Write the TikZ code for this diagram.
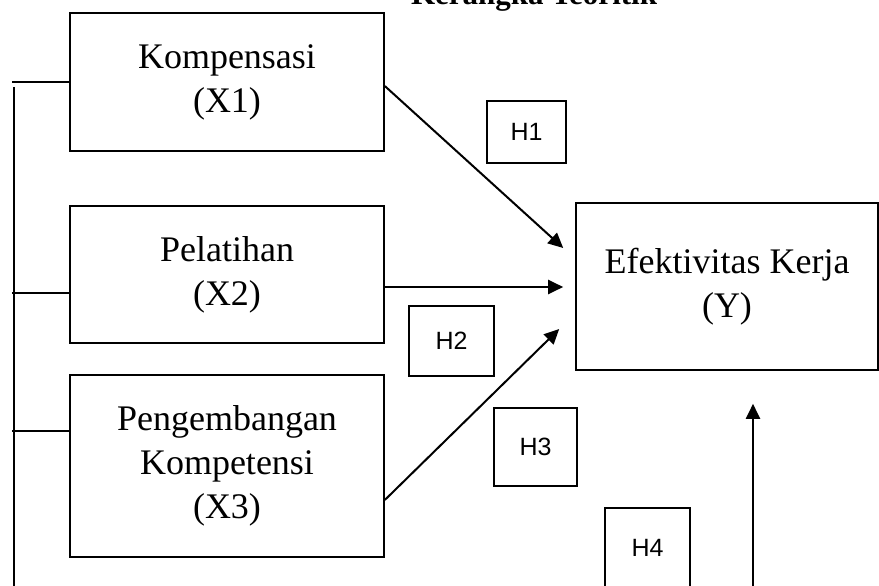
\documentclass[tikz,border=0pt]{standalone}
\usepackage{fontspec}
\setmainfont{Liberation Serif}
\setsansfont{Liberation Sans}
\usetikzlibrary{arrows.meta,positioning,calc}
\tikzset{
  varbox/.style={draw=black,line width=1.6pt,inner sep=0pt,align=center,
                 font=\fontsize{36}{44}\selectfont},
  hypbox/.style={draw=black,line width=1.6pt,inner sep=0pt,
                 font=\sffamily\fontsize{25}{29}\selectfont},
  arr/.style={-{Triangle[length=15pt,width=14pt]},line width=2pt},
  wire/.style={line width=1.7pt},
  titletext/.style={font=\bfseries\fontsize{31}{36}\selectfont,anchor=base}
}
\begin{document}
\begin{tikzpicture}[x=1pt,y=-1pt]
    \useasboundingbox (0,0) rectangle (879,586);

    \node[titletext] (title) at (534,5) {Kerangka Teoritik};

    % variabel bebas
    \node[varbox,minimum width=314pt,minimum height=138pt] (komp) at (227,82)
      {Kompensasi\\(X1)};
    \node[varbox,minimum width=314pt,minimum height=137pt] (pel) at (227,274.5)
      {Pelatihan\\(X2)};
    \node[varbox,minimum width=314pt,minimum height=182pt] (peng) at (227,466)
      {Pengembangan\\Kompetensi\\(X3)};
    % variabel terikat
    \node[varbox,minimum width=302pt,minimum height=167pt] (efek) at (727,286.5)
      {Efektivitas Kerja\\(Y)};

    % hipotesis
    \node[hypbox,minimum width=79pt,minimum height=62pt] (h1) at (526.5,132) {H1};
    \node[hypbox,minimum width=85pt,minimum height=70pt] (h2) at (451.5,341) {H2};
    \node[hypbox,minimum width=83pt,minimum height=78pt] (h3) at (535.5,447) {H3};
    \node[hypbox,minimum width=85pt,minimum height=80pt] (h4) at (647.5,548) {H4};

    \draw[arr] ([yshift=-4pt]komp.east) -- ([xshift=-12pt,yshift=38.5pt]efek.west);
    \draw[arr] ([yshift=-12.5pt]pel.east) -- ([xshift=-12pt,yshift=-0.5pt]efek.west);
    \draw[arr] ([yshift=-34pt]peng.east) -- ([xshift=-16pt,yshift=-42.5pt]efek.west);

    % simultan
    \coordinate (simtop) at (14,87);
    \coordinate (simbot) at (14,586);
    \coordinate (simk) at (12,82);
    \coordinate (simp) at (12,293);
    \coordinate (simg) at (12,431);
    \coordinate (h4base) at (753,586);
    \draw[wire] (simtop) -- (simbot);
    \draw[wire] (simk) -- (komp.west);
    \draw[wire] (simp) -- ([yshift=-18.5pt]pel.west);
    \draw[wire] (simg) -- ([yshift=35pt]peng.west);
    \draw[arr] (h4base) -- ([xshift=26pt,yshift=-33pt]efek.south);
\end{tikzpicture}
\end{document}
